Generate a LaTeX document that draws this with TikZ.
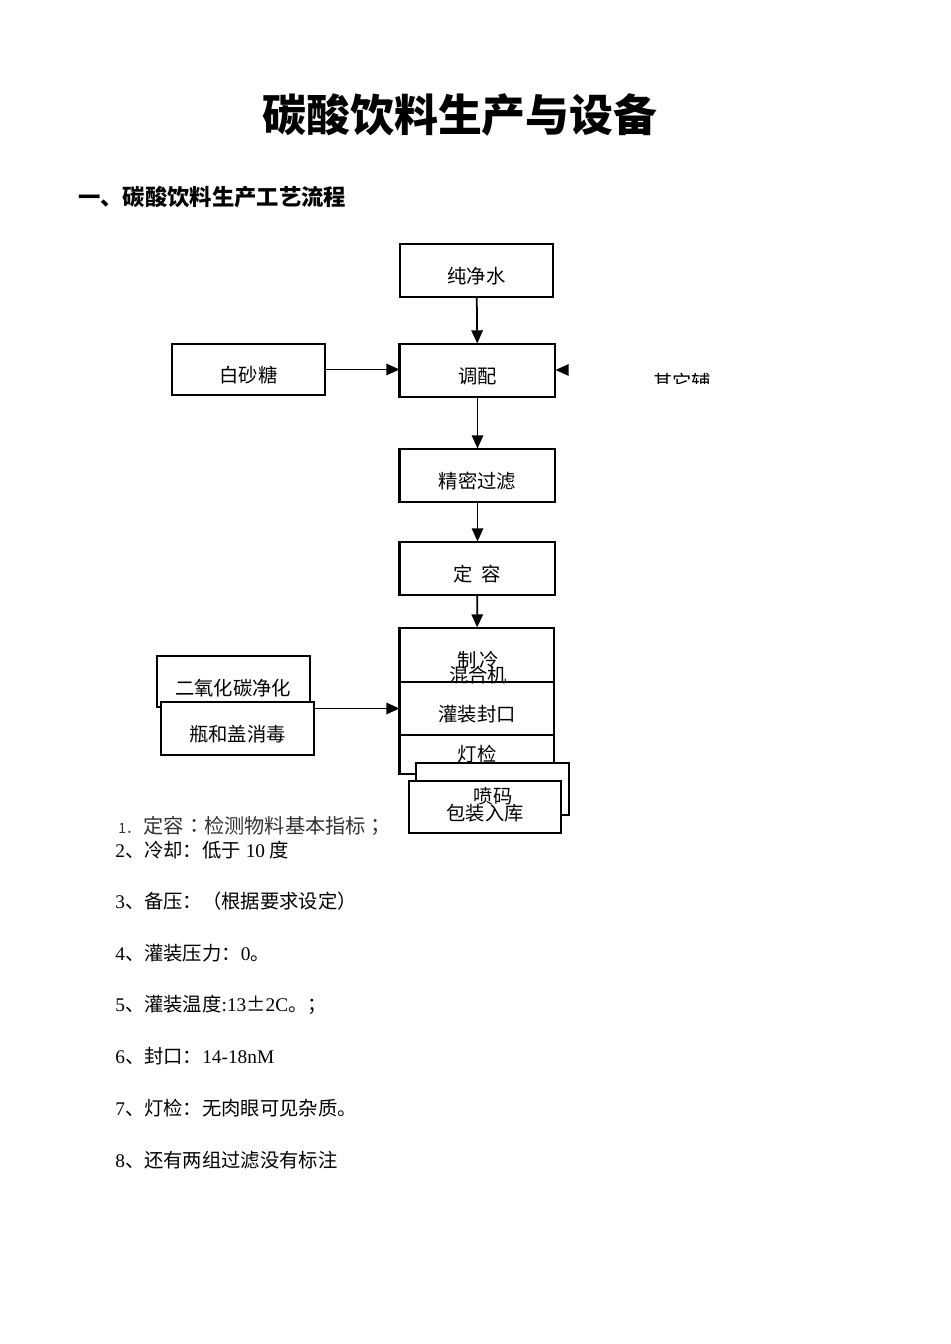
\documentclass[tikz,border=0pt]{standalone}
\usepackage{fontspec}
\setmainfont{Liberation Serif}
\newfontfamily\cjk{Noto Sans CJK SC}
\newfontfamily\cjkjp{Noto Sans CJK JP}
\usetikzlibrary{arrows.meta}

\begin{document}
\begin{tikzpicture}[x=0.02cm,y=-0.02cm,
    every node/.style={inner sep=0pt},
    box/.style={rectangle,draw,fill=white,line width=0.6pt,minimum width=3.06cm,minimum height=1.06cm,
      text height=1.55em,text depth=0.12em,font=\cjk\fontsize{11}{13}\selectfont},
    lbl/.style={font=\cjk\fontsize{11}{13}\selectfont},
    note/.style={anchor=west,font=\fontsize{11}{13}\selectfont},
    >={Triangle[length=7.5pt,width=6.5pt]}]
  \useasboundingbox (0,0) rectangle (950,1344);

  % headings
  \node (title) at (460,115) {\cjk\bfseries\fontsize{25}{30}\selectfont 碳酸饮料生产与设备};
  \node[anchor=west] (head) at (78,197) {\cjk\bfseries\fontsize{12.7}{15}\selectfont 一、碳酸饮料生产工艺流程};

  % main line
  \node[box] (water) at (476.5,270.5) {纯净水};
  \node[box,minimum height=1.02cm] (sugar) at (248.5,369.5) {白砂糖};
  \node[box,minimum width=3.1cm] (mix) at (477.5,370.5) {调配};
  \node[box,minimum width=3.1cm] (filter) at (477.5,475.5) {精密过滤};
  \node[box,minimum width=3.1cm] (volume) at (477.5,568.5) {定\ \ 容};
  \begin{scope}
    \clip (640,360) rectangle (730,383.5);
    \node[lbl] (other) at (682,382) {其它辅};
  \end{scope}
  \coordinate (aux) at (567,370);
  \foreach \n in {mix,filter,volume}
    \draw[line width=1.3pt] (\n.north west) -- (\n.south west);

  % filling block
  \node[box,minimum width=3.08cm,minimum height=1.08cm] (cool) at (477,655) {};
  \node[box,minimum width=3.08cm,minimum height=1.06cm] (fill) at (477,708.5) {灌装封口};
  \node[box,minimum width=3.08cm,minimum height=0.78cm,text height=0.88em] (lamp) at (477,754.5) {灯检};
  \node[lbl] (coolt) at (478,660) {制\,冷};
  \node[lbl] (mixer) at (478,675) {混合机};
  \draw[line width=1.2pt] (cool.north west) -- (lamp.south west);
  \node[box,minimum width=3.06cm,minimum height=1.04cm] (code) at (492.5,789) {};
  \node[box,minimum width=3.04cm,minimum height=1.04cm] (pack) at (485,807) {};
  \node[lbl] (codet) at (493,796) {喷码};
  \node[lbl] (packt) at (485,813) {包装入库};

  \node[box,minimum height=1.02cm] (co2) at (233.5,681.5) {};
  \node[lbl] (co2t) at (233,688) {二氧化碳净化};
  \node[box] (bottle) at (237.5,728.5) {瓶和盖消毒};

  % connectors
  \begin{scope}[line width=1pt]
    \draw[->] (water) -- (mix);
    \draw[->] (sugar.east) -- (mix.west |- sugar.east);
    \draw[->] (aux) -- (mix.east |- aux);
    \draw[->] (mix) -- (filter);
    \draw[->] (filter) -- (volume);
    \draw[->] (volume) -- (cool);
    \draw[->] (bottle.east |- fill.west) -- (fill.west);
  \end{scope}

  % notes
  \node[note,text=black!80] (n1) at (118,826) {{\cjkjp\fontsize{8}{10}\selectfont 1．}\hspace{2pt}{\cjkjp\fontsize{11.5}{13}\selectfont 定容：检测物料基本指标；}};
  \node[note] (n2) at (115,850) {2{\cjk 、冷却：低于}~10~{\cjk 度}};
  \node[note] (n3) at (115,901) {3{\cjk 、备压：（根据要求设定）}};
  \node[note] (n4) at (115,953) {4{\cjk 、灌装压力：}0{\cjk 。}};
  \node[note] (n5) at (115,1005) {5{\cjk 、灌装温度}:13{\cjk ±}2C{\cjk 。；}};
  \node[note] (n6) at (115,1056) {6{\cjk 、封口：}14-18nM};
  \node[note] (n7) at (115,1108) {7{\cjk 、灯检：无肉眼可见杂质。}};
  \node[note] (n8) at (115,1160) {8{\cjk 、还有两组过滤没有标注}};
\end{tikzpicture}
\end{document}
